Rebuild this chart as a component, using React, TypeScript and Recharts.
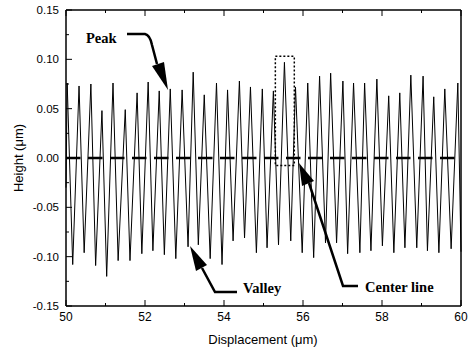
import {
  LineChart,
  Line,
  XAxis,
  YAxis,
  ReferenceLine,
  ReferenceArea,
} from "recharts";

// profile: peak tips and valley tips (x in um, height in um)
const peakX = [
  50.03, 50.33, 50.63, 50.91, 51.19, 51.5, 51.8, 52.08, 52.36, 52.64, 52.94,
  53.22, 53.5, 53.81, 54.09, 54.39, 54.67, 54.97, 55.25, 55.53, 55.81, 56.12,
  56.42, 56.7, 57.01, 57.28, 57.56, 57.87, 58.17, 58.45, 58.73, 59.04, 59.31,
  59.59, 59.92,
];
const peakY = [
  0.076, 0.073, 0.075, 0.048, 0.076, 0.049, 0.066, 0.077, 0.068, 0.07, 0.069,
  0.087, 0.064, 0.076, 0.069, 0.078, 0.072, 0.07, 0.068, 0.097, 0.072, 0.076,
  0.083, 0.086, 0.078, 0.076, 0.076, 0.08, 0.063, 0.066, 0.084, 0.083, 0.062,
  0.07, 0.076,
];
const valleyX = [
  50.0, 50.17, 50.46, 50.75, 51.03, 51.32, 51.62, 51.92, 52.2, 52.49, 52.78,
  53.09, 53.35, 53.65, 53.95, 54.23, 54.52, 54.82, 55.09, 55.38, 55.69, 55.98,
  56.27, 56.57, 56.85, 57.13, 57.44, 57.72, 58.01, 58.3, 58.58, 58.88, 59.15,
  59.44, 59.75, 60.0,
];
const valleyY = [
  -0.03, -0.108, -0.096, -0.109, -0.12, -0.104, -0.104, -0.097, -0.094, -0.098,
  -0.102, -0.09, -0.088, -0.102, -0.108, -0.084, -0.081, -0.096, -0.091,
  -0.088, -0.084, -0.096, -0.101, -0.086, -0.086, -0.097, -0.096, -0.094,
  -0.089, -0.096, -0.091, -0.091, -0.094, -0.096, -0.092, -0.095,
];

const xTicks = [50, 51, 52, 53, 54, 55, 56, 57, 58, 59, 60];
const yTicks = [
  -0.15, -0.125, -0.1, -0.075, -0.05, -0.025, 0, 0.025, 0.05, 0.075, 0.1,
  0.125, 0.15,
];
// dotted box around the tallest peak
const boxX = [55.3, 55.78];
const boxY = [-0.0075, 0.103];

const profile = [
  ...peakX.map((x, i) => ({ x, h: peakY[i] })),
  ...valleyX.map((x, i) => ({ x, h: valleyY[i] })),
].sort((a, b) => a.x - b.x);

const tickFont = { fontFamily: "Liberation Sans, Arial, sans-serif", fontSize: 12 };
const noteFont = {
  fontFamily: "Liberation Serif, Times New Roman, serif",
  fontSize: 14.5,
  fontWeight: "bold" as const,
};

const isMajorX = (v: number) => Math.round(v) % 2 === 0;
const isMajorY = (v: number) => Math.round(v * 1000) % 50 === 0;

function BottomTick(p: any) {
  const v = p.payload.value;
  const major = isMajorX(v);
  return (
    <g>
      <line x1={p.x} x2={p.x} y1={p.y} y2={p.y - (major ? 6 : 3)} stroke="#000" />
      {major && (
        <text x={p.x} y={p.y + 15} textAnchor="middle" {...tickFont} fill="#000">
          {v}
        </text>
      )}
    </g>
  );
}

function TopTick(p: any) {
  const major = isMajorX(p.payload.value);
  return <line x1={p.x} x2={p.x} y1={p.y} y2={p.y + (major ? 6 : 3)} stroke="#000" />;
}

function LeftTick(p: any) {
  const v = p.payload.value;
  const major = isMajorY(v);
  return (
    <g>
      <line x1={p.x} x2={p.x + (major ? 6 : 3)} y1={p.y} y2={p.y} stroke="#000" />
      {major && (
        <text x={p.x - 7} y={p.y + 4} textAnchor="end" {...tickFont} fontSize={11.5} fill="#000">
          {v.toFixed(2)}
        </text>
      )}
    </g>
  );
}

function RightTick(p: any) {
  const major = isMajorY(p.payload.value);
  return <line x1={p.x} x2={p.x - (major ? 6 : 3)} y1={p.y} y2={p.y} stroke="#000" />;
}

export default function App() {
  return (
    <div style={{ position: "fixed", left: 0, top: 0, width: 470, height: 350, background: "#fff" }}>
      <LineChart
        width={470}
        height={350}
        data={profile}
        margin={{ top: 6, right: 5, bottom: 4, left: 6 }}
      >
        <XAxis
          xAxisId="b"
          dataKey="x"
          type="number"
          domain={[50, 60]}
          ticks={xTicks}
          interval={0}
          height={40}
          tickSize={0}
          tickMargin={0}
          tickLine={false}
          axisLine={{ stroke: "#000", strokeWidth: 1.5 }}
          tick={BottomTick}
        />
        <XAxis
          xAxisId="t"
          orientation="top"
          dataKey="x"
          type="number"
          domain={[50, 60]}
          ticks={xTicks}
          interval={0}
          height={4}
          tickSize={0}
          tickMargin={0}
          tickLine={false}
          axisLine={{ stroke: "#000", strokeWidth: 1.5 }}
          tick={TopTick}
        />
        <YAxis
          yAxisId="l"
          type="number"
          domain={[-0.15, 0.15]}
          ticks={yTicks}
          interval={0}
          width={60}
          tickSize={0}
          tickMargin={0}
          tickLine={false}
          axisLine={{ stroke: "#000", strokeWidth: 1.5 }}
          tick={LeftTick}
        />
        <YAxis
          yAxisId="r"
          orientation="right"
          type="number"
          domain={[-0.15, 0.15]}
          ticks={yTicks}
          interval={0}
          width={4}
          tickSize={0}
          tickMargin={0}
          tickLine={false}
          axisLine={{ stroke: "#000", strokeWidth: 1.5 }}
          tick={RightTick}
        />
        <ReferenceLine
          xAxisId="b"
          yAxisId="l"
          y={0}
          stroke="#000"
          strokeWidth={2.5}
          strokeDasharray="14.5 7.5"
        />
        <Line
          xAxisId="b"
          yAxisId="l"
          dataKey="h"
          type="linear"
          stroke="#000"
          strokeWidth={1}
          dot={false}
          isAnimationActive={false}
        />
        <ReferenceArea
          xAxisId="b"
          yAxisId="l"
          x1={boxX[0]}
          x2={boxX[1]}
          y1={boxY[0]}
          y2={boxY[1]}
          fill="none"
          fillOpacity={0}
          stroke="#000"
          strokeWidth={1.5}
          strokeDasharray="2 2"
        />
      </LineChart>
      <svg
        width={470}
        height={350}
        style={{ position: "absolute", left: 0, top: 0, pointerEvents: "none" }}
      >
        <text x={263} y={344} textAnchor="middle" {...tickFont} fontSize={13} fill="#000">
          Displacement (μm)
        </text>
        <text
          x={23}
          y={158}
          transform="rotate(-90 23 158)"
          textAnchor="middle"
          {...tickFont}
          fontSize={13}
          fill="#000"
        >
          Height (μm)
        </text>

        <text x={86} y={43} {...noteFont} fill="#000">Peak</text>
        <path d="M127,34 L145,34 Q150,35 152,45 L157,64" stroke="#000" strokeWidth={2.5} fill="none" />
        <polygon points="152,66 164,62 168,90" fill="#000" />

        <text x={243} y={293} {...noteFont} fill="#000">Valley</text>
        <path d="M237,292 L215,292 L202,268" stroke="#000" strokeWidth={2.5} fill="none" />
        <polygon points="196,271 207,265 190,246" fill="#000" />

        <text x={365} y={292} {...noteFont} fill="#000">Center line</text>
        <path d="M358,286 L343,286 L309,183" stroke="#000" strokeWidth={2.5} fill="none" />
        <polygon points="302,186 314,181 299,163" fill="#000" />
      </svg>
    </div>
  );
}
